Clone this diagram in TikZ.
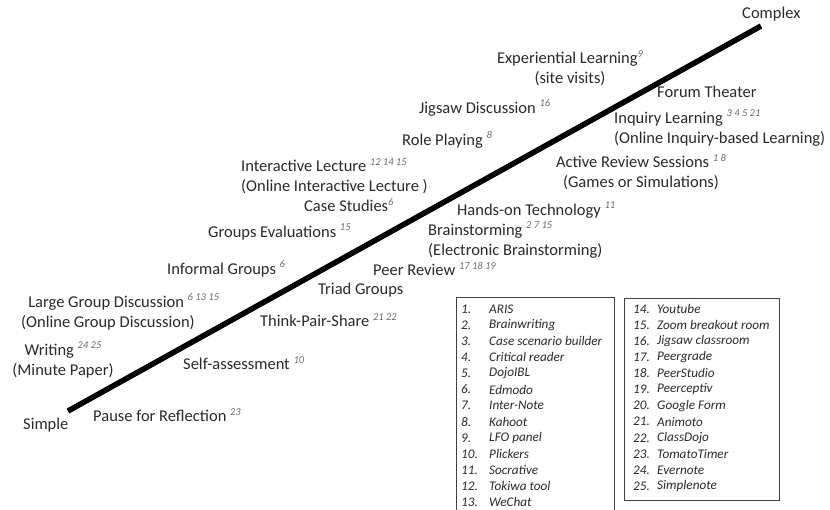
\documentclass[tikz,border=0pt]{standalone}
\usepackage{fontspec}
\setmainfont{Carlito}
\definecolor{textgray}{gray}{0.16}
\definecolor{refgray}{gray}{0.42}
% tool numbers set as small grey italic superscripts
\newcommand{\refs}[1]{\raisebox{6.5pt}{\fontsize{10.5}{10.5}\selectfont\itshape\color{refgray}#1}}

\begin{document}
\begin{tikzpicture}[x=1pt,y=-1pt,
  methodstyle/.style={inner sep=0,font=\fontsize{16.5}{20}\selectfont,text=textgray},
  toolstyle/.style={inner sep=0,anchor=west,font=\fontsize{13.2}{13.2}\selectfont\itshape,text=textgray},
  boxstyle/.style={draw=black!75,line width=0.8pt}]
\useasboundingbox (0,0) rectangle (830,510);

% the scale from simple to complex
\coordinate (lowend) at (68,411);
\coordinate (highend) at (761,26);
\draw[line width=5.5pt] (lowend)--(highend);
\node[methodstyle,anchor=west](simple) at (23,425){Simple};
\node[methodstyle,anchor=west](complex) at (742,14){Complex};

% methods above the line
\node[methodstyle,align=center](experiential) at (570,68){Experiential Learning\refs{9}\\(site visits)};
\node[methodstyle,anchor=west](jigsaw) at (419,108){Jigsaw Discussion \refs{16}};
\node[methodstyle,anchor=west](roleplay) at (402,140){Role Playing \refs{8}};
\node[methodstyle,anchor=west,align=left](interactive) at (241,176){Interactive Lecture \refs{12 14 15}\\(Online Interactive Lecture )};
\node[methodstyle,anchor=west](casestudies) at (304,205){Case Studies\refs{6}};
\node[methodstyle,anchor=west](groupseval) at (208,232){Groups Evaluations \refs{15}};
\node[methodstyle,anchor=west](informal) at (167,269){Informal Groups \refs{6}};
\node[methodstyle,align=center](largegroup) at (108,312){Large Group Discussion \rlap{\refs{6 13 15}}\\(Online Group Discussion)};
\node[methodstyle,align=center](writing) at (63,360){Writing \refs{24 25}\\(Minute Paper)};

% methods below the line
\node[methodstyle,anchor=west](forum) at (657,92){Forum Theater};
\node[methodstyle,anchor=west,align=left](inquiry) at (614,128){Inquiry Learning \refs{3 4 5 21}\\(Online Inquiry-based Learning)};
\node[methodstyle,align=center](activereview) at (641,172){Active Review Sessions \refs{1 8}\\(Games or Simulations)};
\node[methodstyle,anchor=west](handson) at (457,210){Hands-on Technology \refs{11}};
\node[methodstyle,anchor=west,align=left](brainstorm) at (428,240){Brainstorming \refs{2 7 15}\\(Electronic Brainstorming)};
\node[methodstyle,anchor=west](peerreview) at (373,269){Peer Review \refs{17 18 19}};
\node[methodstyle,anchor=west](triad) at (318,290){Triad Groups};
\node[methodstyle,anchor=west](think) at (260,320){Think-Pair-Share \refs{21 22}};
\node[methodstyle,anchor=west](selfassess) at (183,363){Self-assessment \refs{10}};
\node[methodstyle,anchor=west](pause) at (93,415){Pause for Reflection \refs{23}};

% tool lists
\draw[boxstyle] (456,520)--(456,297)--(614,297)--(614,520);
\draw[boxstyle] (624,298) rectangle (779,500);
\foreach \tool [count=\i] in {ARIS,Brainwriting,Case scenario builder,Critical reader,DojoIBL,Edmodo,Inter-Note,Kahoot,LFO panel,Plickers,Socrative,Tokiwa tool,WeChat}
{\node[toolstyle](num\i) at (461,{309+16.1*(\i-1)}){\i.};
\node[toolstyle](tool\i) at (489,{309+16.1*(\i-1)}){\tool};
}
\foreach \tool [count=\i from 14] in {Youtube,Zoom breakout room,Jigsaw classroom,Peergrade,PeerStudio,Peerceptiv,Google Form,Animoto,ClassDojo,TomatoTimer,Evernote,Simplenote}
{\node[toolstyle](num\i) at (633,{309+16.1*(\i-14)}){\i.};
\node[toolstyle](tool\i) at (657,{309+16.1*(\i-14)}){\tool};
}

\end{tikzpicture}
\end{document}
